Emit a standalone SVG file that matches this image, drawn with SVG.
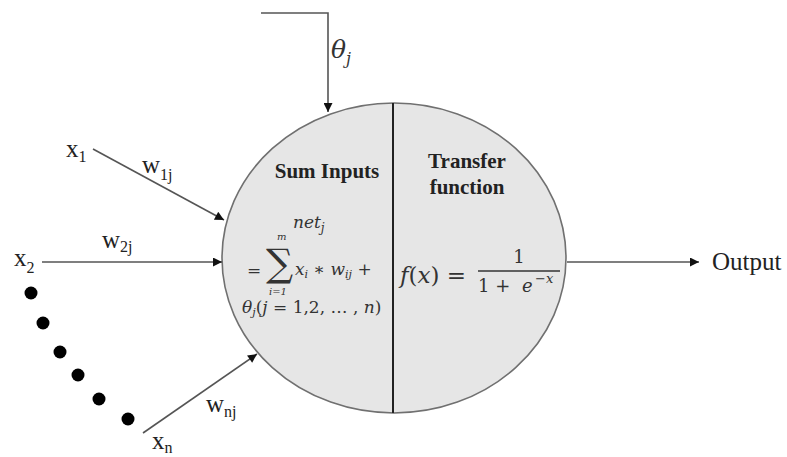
<svg xmlns="http://www.w3.org/2000/svg" width="787" height="457" viewBox="0 0 787 457">
<defs>
<marker id="ah" viewBox="0 0 10 10" refX="10" refY="5" markerWidth="10" markerHeight="9" markerUnits="userSpaceOnUse" orient="auto">
<path d="M0,0 L10,5 L0,10 z" fill="#111"/>
</marker>
<style>
.ln{stroke:#555;stroke-width:1.6;fill:none}
.t{font-family:"Liberation Serif",serif;fill:#222}
.m{font-family:"DejaVu Serif",serif;font-style:italic;fill:#333}
.n{font-family:"DejaVu Serif",serif;font-style:normal;fill:#333}
.b{font-family:"Liberation Serif",serif;font-weight:bold;fill:#222}
.dot{fill:#000}
</style>
</defs>
<rect width="787" height="457" fill="#fff"/>
<g id="neuron">
<ellipse cx="394" cy="258" rx="172" ry="155" fill="#e6e6e6" stroke="#707070" stroke-width="1.6"/>
<line x1="393" y1="103" x2="393" y2="413" stroke="#222" stroke-width="2"/>
<text class="b" x="327" y="178" font-size="21" text-anchor="middle">Sum Inputs</text>
<text class="b" x="467" y="168" font-size="21" text-anchor="middle">Transfer</text>
<text class="b" x="467" y="194" font-size="21" text-anchor="middle">function</text>
<text class="m" x="293" y="228" font-size="17">net<tspan font-size="12" dy="4">j</tspan></text>
<text class="m" x="277" y="240" font-size="10">m</text>
<text class="n" x="247" y="276" font-size="17">=</text>
<text class="n" x="266" y="276" font-size="38">∑</text>
<text class="m" x="269" y="295" font-size="10">i=1</text>
<text class="m" x="295" y="275" font-size="17">x<tspan font-size="11" dy="3">i</tspan><tspan class="n" dy="-3"> ∗ </tspan>w<tspan font-size="11" dy="3">ij</tspan><tspan class="n" dy="-3"> +</tspan></text>
<text class="m" x="242" y="313" font-size="17">θ<tspan font-size="11" dy="3">j</tspan><tspan class="n" dy="-3">(</tspan>j<tspan class="n"> = 1,2, … , </tspan>n<tspan class="n">)</tspan></text>
<text class="m" x="400" y="283" font-size="23">f<tspan class="n">(</tspan>x<tspan class="n">) =</tspan></text>
<text class="n" x="519" y="263" font-size="18" text-anchor="middle">1</text>
<line x1="478" y1="271" x2="560" y2="271" stroke="#333" stroke-width="1.3"/>
<text class="n" x="478" y="292" font-size="18">1 +</text>
<text class="m" x="522" y="292" font-size="18">e</text>
<text class="m" x="535" y="283" font-size="13">−x</text>
</g>
<g id="connectors">
<polyline class="ln" points="261,13 328,13 328,112" marker-end="url(#ah)"/>
<line class="ln" x1="93" y1="149" x2="224" y2="220" marker-end="url(#ah)"/>
<line class="ln" x1="42" y1="262" x2="222" y2="262" marker-end="url(#ah)"/>
<line class="ln" x1="143" y1="433" x2="257" y2="354" marker-end="url(#ah)"/>
<line class="ln" x1="567" y1="262" x2="699" y2="262" marker-end="url(#ah)"/>
</g>
<g id="theta">
<text class="m" x="331" y="58" font-size="25">θ<tspan font-size="16" dy="6">j</tspan></text>
</g>
<g id="x1">
<text class="t" x="66" y="157" font-size="25">x<tspan font-size="16" dy="5">1</tspan></text>
<text class="t" x="142" y="173" font-size="25">w<tspan font-size="16" dy="7">1j</tspan></text>
</g>
<g id="x2">
<text class="t" x="14" y="266" font-size="25">x<tspan font-size="16" dy="7">2</tspan></text>
<text class="t" x="102" y="248" font-size="25">w<tspan font-size="16" dy="4">2j</tspan></text>
</g>
<g id="xn">
<text class="t" x="152" y="449" font-size="25">x<tspan font-size="16" dy="4">n</tspan></text>
<text class="t" x="206" y="412" font-size="25">w<tspan font-size="16" dy="5">nj</tspan></text>
</g>
<g id="dots">
<circle class="dot" cx="31" cy="293" r="6.5"/>
<circle class="dot" cx="43" cy="323" r="6.5"/>
<circle class="dot" cx="60" cy="352" r="6.5"/>
<circle class="dot" cx="78" cy="375" r="6.5"/>
<circle class="dot" cx="99" cy="399" r="6.5"/>
<circle class="dot" cx="128" cy="419" r="6.5"/>
</g>
<g id="output">
<text class="t" x="712" y="270" font-size="25">Output</text>
</g>
</svg>
